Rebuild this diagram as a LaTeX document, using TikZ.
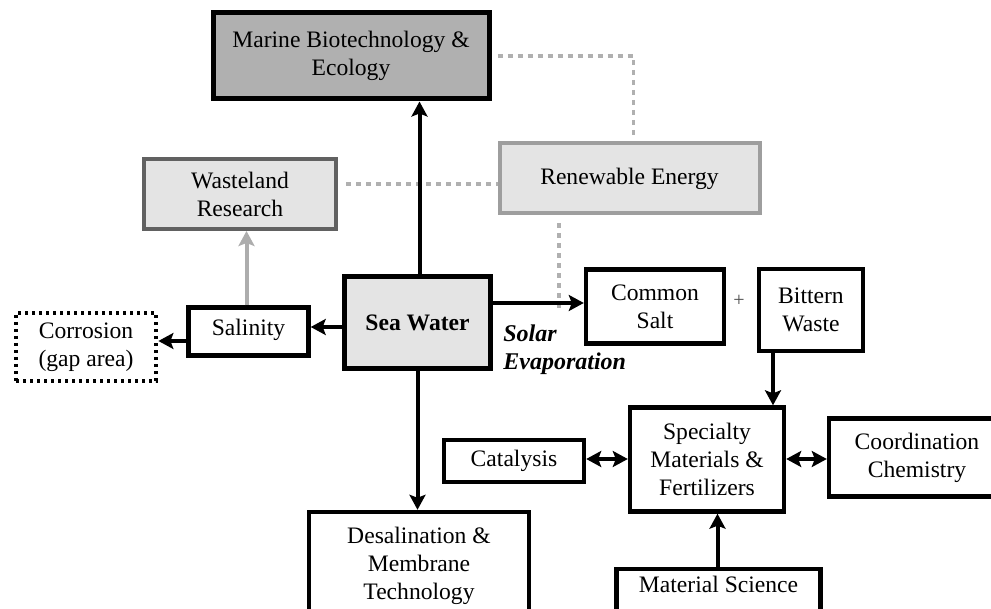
\documentclass[tikz,border=0pt]{standalone}
\usepackage{fontspec}
\setmainfont{Liberation Serif}
\usetikzlibrary{arrows.meta,calc}
\definecolor{boxgrey}{HTML}{E4E4E4}
\definecolor{darkfill}{HTML}{B0B0B0}
\definecolor{dotgrey}{HTML}{B0B0B0}
\tikzset{
	blk/.style={draw, line width=2.2pt, align=center, inner sep=1pt,
		font=\fontsize{11.8}{14}\selectfont},
	softblk/.style={blk, fill=boxgrey, line width=2pt},
	dotlink/.style={draw=dotgrey, line width=1.7pt, dash pattern=on 2.5pt off 2.5pt},
	arr/.style={line width=2pt, ->},
	twoway/.style={line width=2pt, <->}
}
\begin{document}
\begin{tikzpicture}[x=0.5pt,y=-0.5pt,line join=miter, >={Stealth[length=7.5pt,width=8pt,inset=1.5pt]}]
	\useasboundingbox (0,0) rectangle (991,609);
	% top row
	\node[blk, fill=darkfill, line width=2.5pt, minimum width=138pt, minimum height=43pt] (marine) at (351,56) {Marine Biotechnology \&\\Ecology};
	\node[softblk, draw=black!62, minimum width=96pt, minimum height=35pt] (waste) at (240,194) {Wasteland\\Research};
	\node[softblk, draw=black!38, minimum width=130pt, minimum height=35pt] (renew) at (629.5,178.5) {Renewable Energy};
	% middle row
	\node[softblk, line width=2.2pt, minimum width=73pt, minimum height=46pt, font=\fontsize{11.8}{14}\selectfont\bfseries] (sea) at (417.5,322.5) {Sea Water};
	\node[blk, minimum width=60pt, minimum height=24pt, text depth=4pt] (salin) at (248.5,331.5) {Salinity};
	\node[blk, dash pattern=on 1.7pt off 1.8pt, line width=2.4pt, minimum width=70pt, minimum height=34pt] (corr) at (86,347) {Corrosion\\(gap area)};
	\node[blk, minimum width=69pt, minimum height=37pt] (common) at (655,306.5) {Common\\Salt};
	\node[blk, minimum width=52pt, minimum height=41pt] (bittern) at (811,310) {Bittern\\Waste};
	\node[font=\fontsize{10}{12}\selectfont, text=black!70, inner sep=0pt] (plus) at (739,301) {+};
	\node[anchor=north west, align=left, inner sep=0pt, font=\fontsize{12}{14}\selectfont\bfseries\itshape] (solar) at (503,324) {Solar\\Evaporation};
	% bottom part
	\node[blk, minimum width=110pt, minimum height=54pt] (desal) at (419,566) {Desalination \&\\Membrane\\Technology};
	\node[blk, minimum width=77pt, minimum height=52pt] (spec) at (707,459.5) {Specialty\\Materials \&\\Fertilizers};
	\node[blk, minimum width=70pt, minimum height=21pt] (catal) at (514,461) {Catalysis};
	\node[blk, minimum width=88pt, minimum height=39pt] (coord) at (917,457.5) {Coordination\\Chemistry};
	\node[blk, minimum width=102pt, minimum height=23pt, text depth=8pt] (matsci) at (718.5,592) {Material Science};
	% dotted links
	\coordinate (dotend) at (559,310);
	\draw[dotlink] ([xshift=3pt]marine.east) -| ([xshift=2pt,yshift=3pt]renew.north);
	\draw[dotlink] ([xshift=4pt]waste.east |- 0,184) -- (renew.west |- 0,184);
	\draw[dotlink] ([yshift=-4pt]renew.south -| dotend) -- (dotend);
	% arrows
	\draw[arr] ([xshift=1pt]sea.north) -- ([xshift=1pt]sea.north |- marine.south);
	\draw[arr] (sea.west |- 0,327) -- (salin.east |- 0,327);
	\draw[arr] (salin.west |- 0,341) -- (corr.east |- 0,341);
	\draw[arr, draw=black!32] ([xshift=-1pt]salin.north) -- ([xshift=-1pt]salin.north |- waste.south);
	\draw[arr] (sea.east |- 0,303) -- (common.west |- 0,303);
	\draw[arr] (sea.south) -- (sea.south |- desal.north);
	\draw[arr] ([xshift=-19pt]bittern.south) -- ([xshift=-19pt]bittern.south |- spec.north);
	\draw[twoway] (catal.east |- 0,459) -- (spec.west |- 0,459);
	\draw[twoway] (spec.east |- 0,459) -- (coord.west |- 0,459);
	\draw[arr] ([xshift=-0.5pt]matsci.north) -- ([xshift=-0.5pt]matsci.north |- spec.south);
\end{tikzpicture}
\end{document}
